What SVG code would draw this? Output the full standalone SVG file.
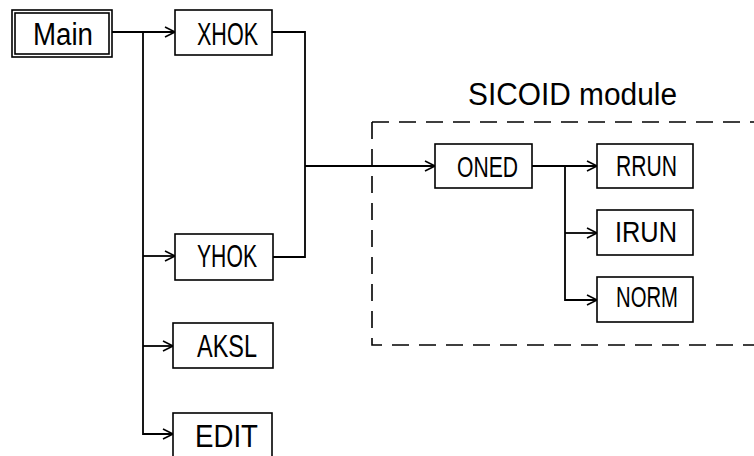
<svg xmlns="http://www.w3.org/2000/svg" width="754" height="456" viewBox="0 0 754 456">
<defs>
<marker id="arr" markerUnits="userSpaceOnUse" markerWidth="14" markerHeight="14" viewBox="-11 -7 13 14" refX="0" refY="0" orient="auto">
<path d="M-10,-5 L0,0 L-10,5" fill="none" stroke="#000" stroke-width="1.6"/>
</marker>
</defs>
<style>
.box{fill:#fff;stroke:#000;stroke-width:1.6}
.lbl{font-family:"Liberation Sans",Arial,sans-serif;font-size:31px;fill:#000}
.sm{font-size:29px}
.con{fill:none;stroke:#000;stroke-width:1.8}
.arr{marker-end:url(#arr)}
.dash{fill:none;stroke:#000;stroke-width:1.6;stroke-dasharray:17 10}
</style>
<rect width="754" height="456" fill="#fff"/>
<g id="sicoid-module">
<path class="dash" d="M372,122 H760 M372,122 V345 H760"/>
<text class="lbl" x="468" y="105" textLength="209" lengthAdjust="spacingAndGlyphs">SICOID module</text>
</g>
<g id="connectors">
<path class="con arr" d="M112,32 H175"/>
<path class="con arr" d="M143,32 V434 H173"/>
<path class="con arr" d="M143,256 H175"/>
<path class="con arr" d="M143,346 H173"/>
<path class="con" d="M272,32 H305 V257 H273"/>
<path class="con arr" d="M305,166 H435"/>
<path class="con arr" d="M532,166 H597"/>
<path class="con arr" d="M565,166 V300 H597"/>
<path class="con arr" d="M565,233 H597"/>
</g>
<g id="main">
<rect class="box" x="12" y="10" width="100" height="47"/>
<rect class="box" x="15" y="13" width="94" height="41"/>
<text class="lbl" x="33" y="45" textLength="60" lengthAdjust="spacingAndGlyphs">Main</text>
</g>
<g id="xhok">
<rect class="box" x="175" y="10" width="97" height="45"/>
<text class="lbl" x="197" y="45" textLength="61" lengthAdjust="spacingAndGlyphs">XHOK</text>
</g>
<g id="yhok">
<rect class="box" x="175" y="234" width="98" height="46"/>
<text class="lbl" x="197" y="267" textLength="60" lengthAdjust="spacingAndGlyphs">YHOK</text>
</g>
<g id="aksl">
<rect class="box" x="173" y="323" width="100" height="45"/>
<text class="lbl" x="197" y="357" textLength="60" lengthAdjust="spacingAndGlyphs">AKSL</text>
</g>
<g id="edit">
<rect class="box" x="173" y="413" width="99" height="50"/>
<text class="lbl" x="195" y="447" textLength="63" lengthAdjust="spacingAndGlyphs">EDIT</text>
</g>
<g id="oned">
<rect class="box" x="435" y="144" width="97" height="44"/>
<text class="lbl sm" x="457" y="177" textLength="61" lengthAdjust="spacingAndGlyphs">ONED</text>
</g>
<g id="rrun">
<rect class="box" x="597" y="144" width="96" height="44"/>
<text class="lbl sm" x="616" y="176" textLength="61" lengthAdjust="spacingAndGlyphs">RRUN</text>
</g>
<g id="irun">
<rect class="box" x="597" y="210" width="96" height="45"/>
<text class="lbl sm" x="615" y="242" textLength="62" lengthAdjust="spacingAndGlyphs">IRUN</text>
</g>
<g id="norm">
<rect class="box" x="597" y="277" width="96" height="45"/>
<text class="lbl sm" x="616" y="307" textLength="62" lengthAdjust="spacingAndGlyphs">NORM</text>
</g>
</svg>
